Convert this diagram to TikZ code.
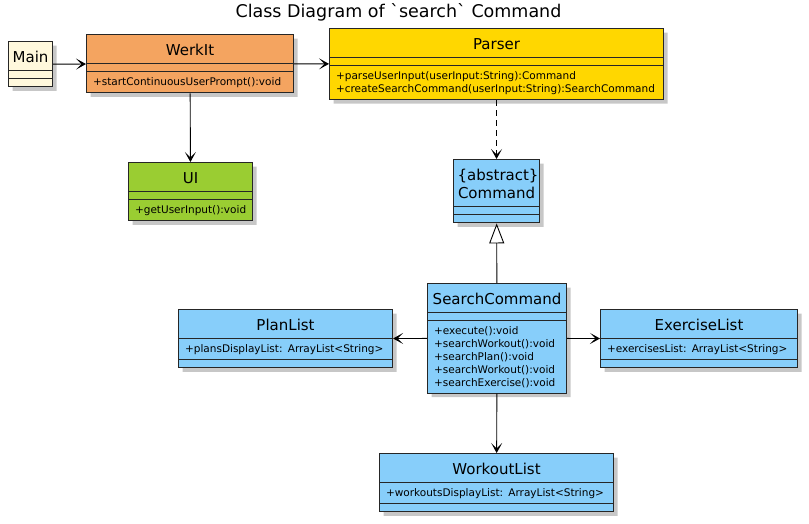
\documentclass[tikz,border=0pt]{standalone}
\usepackage{fontspec}
\newfontfamily\umlfont{DejaVu Sans}
\usetikzlibrary{shapes.multipart,arrows.meta,shadows}
\definecolor{mainfill}{HTML}{FFF8DC}
\definecolor{werkfill}{HTML}{F4A460}
\definecolor{parserfill}{HTML}{FFD700}
\definecolor{uifill}{HTML}{9ACD32}
\definecolor{cmdfill}{HTML}{87CEFA}
\newcommand{\clsname}[1]{\centering\fontsize{15}{18}\selectfont\noindent\rule{0pt}{20.5pt}#1\rule[-7.5pt]{0pt}{7.5pt}\par}
\newcommand{\members}[1]{\leftskip=2.5pt\noindent\rule{0pt}{13.5pt}#1\rule[-6.5pt]{0pt}{6.5pt}\par}
\newcommand{\nomembers}{\noindent\rule{0pt}{7pt}\par}
\begin{document}
\begin{tikzpicture}[x=1pt,y=-1pt,
				cls/.style={rectangle split, rectangle split parts=3, draw=black!85, line width=1.1pt, inner xsep=4pt, inner ysep=0pt, align=left, anchor=north west, font=\umlfont\fontsize{10.5}{12.8}\selectfont, drop shadow={shadow xshift=4pt, shadow yshift=-4pt, opacity=0.22, fill=black}},
				link/.style={-{Stealth[length=10pt,width=11pt,inset=5.5pt]}, line width=0.9pt}]
				\useasboundingbox (0,0) rectangle (809,523);
				
				\node [font=\umlfont\fontsize{17.5}{20}\selectfont, anchor=base] (title) at (398.5,17) {Class Diagram of `search` Command};
				
				\node [cls, fill=mainfill, text width=36pt] (main) at (8,41) {\clsname{Main}\nodepart{two}\nomembers\nodepart{three}\nomembers};
				\node [cls, fill=werkfill, text width=199pt] (werkit) at (86,34) {\clsname{WerkIt}\nodepart{two}\nomembers\nodepart{three}\members{+startContinuousUserPrompt():void}};
				\node [cls, fill=parserfill, text width=326pt] (parser) at (329,28) {\clsname{Parser}\nodepart{two}\nomembers\nodepart{three}\members{+parseUserInput(userInput:String):Command\\+createSearchCommand(userInput:String):SearchCommand}};
				\node [cls, fill=uifill, text width=116pt] (ui) at (128,162) {\clsname{UI}\nodepart{two}\nomembers\nodepart{three}\members{+getUserInput():void}};
				\node [cls, fill=cmdfill, text width=78pt] (command) at (453,159) {\clsname{\{abstract\}\\Command}\nodepart{two}\nomembers\nodepart{three}\nomembers};
				\node [cls, fill=cmdfill, text width=131pt] (searchcmd) at (427,283) {\clsname{SearchCommand}\nodepart{two}\nomembers\nodepart{three}\members{+execute():void\\+searchWorkout():void\\+searchPlan():void\\+searchWorkout():void\\+searchExercise():void}};
				\node [cls, fill=cmdfill, text width=206pt] (planlist) at (178,309) {\clsname{PlanList}\nodepart{two}\members{+plansDisplayList: ArrayList<String>}\nodepart{three}\nomembers};
				\node [cls, fill=cmdfill, text width=189pt] (exerciselist) at (600,309) {\clsname{ExerciseList}\nodepart{two}\members{+exercisesList: ArrayList<String>}\nodepart{three}\nomembers};
				\node [cls, fill=cmdfill, text width=226pt] (workoutlist) at (379,453) {\clsname{WorkoutList}\nodepart{two}\members{+workoutsDisplayList: ArrayList<String>}\nodepart{three}\nomembers};
				
				\begin{scope}[link]
				\draw (main) -- (werkit);
				\draw (werkit) -- (parser);
				\draw (werkit) -- (ui);
				\draw [dash pattern=on 6pt off 4pt] (parser) -- (command);
				\draw (searchcmd) -- (planlist);
				\draw (searchcmd) -- (exerciselist);
				\draw (searchcmd) -- (workoutlist);
				\end{scope}
				\draw [-{Triangle[open,length=20pt,width=15pt,fill=white]}, line width=0.9pt] (searchcmd) -- (command);
				\end{tikzpicture}
\end{document}
